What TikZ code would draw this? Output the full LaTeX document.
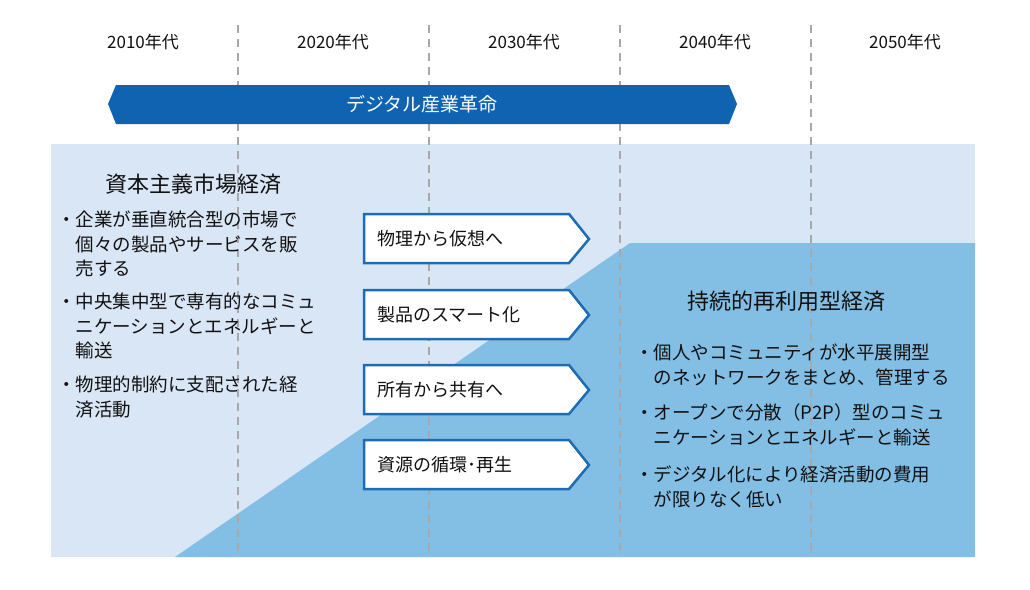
\documentclass[tikz,border=0pt]{standalone}
\usepackage{fontspec}
\setmainfont{Noto Sans CJK JP}
\definecolor{light}{HTML}{D9E6F5}
\definecolor{dark}{HTML}{83BEE4}
\definecolor{band}{HTML}{0F63B0}
\definecolor{bord}{HTML}{1E6DB4}
\definecolor{dashgray}{HTML}{A8A8A8}
\definecolor{txt}{HTML}{111111}
\begin{document}
\begin{tikzpicture}[x=1pt,y=-1pt,
  yr/.style={font=\fontsize{17}{17}\selectfont,text=txt},
  bl/.style={anchor=west,font=\fontsize{18.5}{24.5}\selectfont,text=txt,align=left,inner sep=0},
  ttl/.style={font=\fontsize{22}{22}\selectfont,text=txt},
  chev/.style={draw=bord,line width=2.5pt,fill=white},
  ctext/.style={anchor=west,font=\fontsize{18}{18}\selectfont,text=txt,inner sep=0}]
\useasboundingbox (0,0) rectangle (1030,589);
\fill[white] (0,0) rectangle (1030,589);
% panels
\fill[light] (51,144) rectangle (975,557);
\fill[dark] (175,557) -- (630,243) -- (975,243) -- (975,557) -- cycle;
% dashed lines
\foreach \x in {238,429,620,811}
  \draw[dashgray,line width=1.2pt,dash pattern=on 8pt off 6pt] (\x,25) -- (\x,557);
% years
\node[yr] (y1) at (143,42) {2010年代};
\node[yr] (y2) at (333,42) {2020年代};
\node[yr] (y3) at (524,42) {2030年代};
\node[yr] (y4) at (715,42) {2040年代};
\node[yr] (y5) at (905,42) {2050年代};
% band
\fill[band] (108,104) -- (116,85) -- (729,85) -- (737,104) -- (729,124) -- (116,124) -- cycle;
\node[text=white,font=\fontsize{19}{19}\selectfont] (bandt) at (422,104) {デジタル産業革命};
% left
\node[ttl] (lt) at (193,184) {資本主義市場経済};
\node[bl] (l1) at (57,244) {・企業が垂直統合型の市場で\\\hspace{1em}個々の製品やサービスを販\\\hspace{1em}売する};
\node[bl] (l2) at (57,326) {・中央集中型で専有的なコミュ\\\hspace{1em}ニケーションとエネルギーと\\\hspace{1em}輸送};
\node[bl] (l3) at (57,397) {・物理的制約に支配された経\\\hspace{1em}済活動};
% chevrons
\foreach \n/\y/\t in {c1/214/物理から仮想へ,c2/290/製品のスマート化,c3/365/所有から共有へ,c4/440/資源の循環･再生}{
  \draw[chev] (364,\y) -- (569,\y) -- (589,\y+25) -- (569,\y+49) -- (364,\y+49) -- cycle;
  \node[ctext] (\n) at (377,\y+25) {\t};
}
% right
\node[ttl] (rt) at (786,301) {持続的再利用型経済};
\node[bl] (r1) at (635,365) {・個人やコミュニティが水平展開型\\\hspace{1em}のネットワークをまとめ、管理する};
\node[bl] (r2) at (635,425) {・オープンで分散（P2P）型のコミュ\\\hspace{1em}ニケーションとエネルギーと輸送};
\node[bl] (r3) at (635,487) {・デジタル化により経済活動の費用\\\hspace{1em}が限りなく低い};
\end{tikzpicture}
\end{document}
